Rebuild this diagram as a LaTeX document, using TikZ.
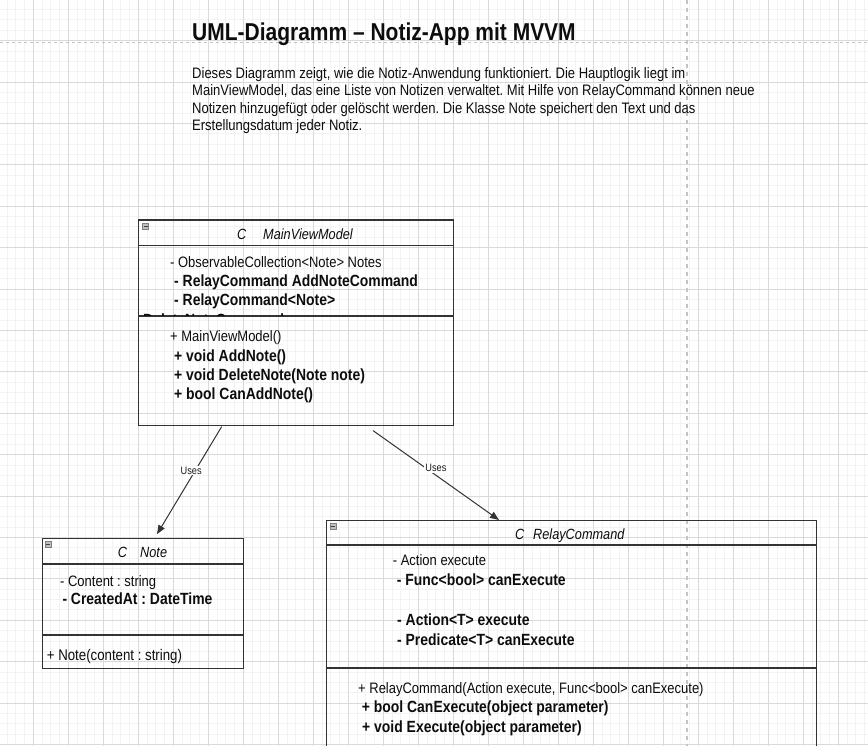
\documentclass[tikz,border=0pt]{standalone}
\usepackage{fontspec}
\setmainfont{Liberation Sans}[FakeStretch=0.86]
\usetikzlibrary{arrows.meta,calc}
\frenchspacing
\definecolor{gridminor}{HTML}{F3F3F3}
\definecolor{gridmajor}{HTML}{DADADA}
\definecolor{pageline}{HTML}{C4C4C4}
\definecolor{boxline}{HTML}{333333}
\newcommand\fsTitle{\fontsize{24.4pt}{28pt}\selectfont\bfseries}
\newcommand\fsPar{\fontsize{15.15pt}{17pt}\selectfont}
\newcommand\fsN{\fontsize{15.1pt}{18pt}\selectfont}
\newcommand\fsB{\fontsize{16.2pt}{19pt}\selectfont\bfseries}
\newcommand\fsH{\fontsize{14.8pt}{18pt}\selectfont\itshape}
\newcommand\fsM{\fontsize{15.4pt}{18pt}\selectfont}
\newcommand\fsU{\fontsize{10.7pt}{12pt}\selectfont}
\begin{document}
\begin{tikzpicture}[x=1pt,y=-1pt,
  txt/.style={anchor=base west, inner sep=0pt, text=black!95},
  classbox/.style={rectangle, draw=boxline, line width=1.1pt, anchor=north west, inner sep=0pt},
  sepline/.style={draw=boxline, line width=1.1pt},
  minusicon/.style={rectangle, draw=black!50, fill=black!25, minimum width=6pt, minimum height=6pt, inner sep=0pt,
     path picture={\draw[black!75, line width=0.8pt] ([xshift=1pt]path picture bounding box.west) -- ([xshift=-1pt]path picture bounding box.east);}},
  uses/.style={draw=boxline, line width=1pt, -{Triangle[length=9pt,width=7pt]}},
  lbl/.style={fill=white, inner sep=1pt, font=\fsU, text=black!90}
]
\useasboundingbox (0,0) rectangle (868,746);
\clip (0,0) rectangle (868,746);
\fill[white] (0,0) rectangle (868,746);
% grid
\foreach \i in {0,...,100} { \draw[gridminor, line width=0.8pt] ({-1.7+8.75*\i},0) -- ++(0,746); }
\foreach \j in {0,...,73} { \draw[gridminor, line width=0.8pt] (0,{-0.8+10.35*\j}) -- ++(868,0); }
\foreach \i in {0,...,25} { \draw[gridmajor, line width=0.8pt] ({-1.7+35*\i},0) -- ++(0,746); }
\foreach \j in {0,...,18} { \draw[gridmajor, line width=0.8pt] (0,{-0.8+41.4*\j}) -- ++(868,0); }
% page break lines
\draw[pageline, line width=1.2pt, dash pattern=on 3pt off 3pt] (0,42.7) -- (868,42.7);
\draw[pageline, line width=1.2pt, dash pattern=on 4pt off 4pt] (687,0) -- (687,746);

% title and description
\node[txt, font=\fsTitle] (title) at (192,41) {UML-Diagramm – Notiz-App mit MVVM};
\node[txt, font=\fsPar] (p1) at (192,78.5) {Dieses Diagramm zeigt, wie die Notiz-Anwendung funktioniert. Die Hauptlogik liegt im};
\node[txt, font=\fsPar] (p2) at (192,96) {MainViewModel, das eine Liste von Notizen verwaltet. Mit Hilfe von RelayCommand können neue};
\node[txt, font=\fsPar] (p3) at (192,113.5) {Notizen hinzugefügt oder gelöscht werden. Die Klasse Note speichert den Text und das};
\node[txt, font=\fsPar] (p4) at (192,131) {Erstellungsdatum jeder Notiz.};

% MainViewModel
\node[classbox, minimum width=315.3pt, minimum height=205pt] (mvm) at (138,219.5) {};
\draw[sepline] (mvm.west |- 0,245.5) -- (mvm.east |- 0,245.5);
\draw[sepline] (mvm.west |- 0,316) -- (mvm.east |- 0,316);
\node[minusicon] (mvmicon) at (145.5,226) {};
\node[txt, font=\fsH] (mvmc) at (237,239.4) {C};
\node[txt, font=\fsH] (mvmname) at (263,239.4) {MainViewModel};
\node[txt, font=\fsN] (mvma1) at (170,267.1) {- ObservableCollection<Note> Notes};
\node[txt, font=\fsB] (mvma2) at (174,286.5) {- RelayCommand AddNoteCommand};
\node[txt, font=\fsB] (mvma3) at (174,305.8) {- RelayCommand<Note>};
\begin{scope}
  \clip (139,300) rectangle (452,315.4);
  \node[txt, font=\fsB] (mvma4) at (143,325) {DeleteNoteCommand};
\end{scope}
\node[txt, font=\fsN] (mvmm1) at (170,341.1) {+ MainViewModel()};
\node[txt, font=\fsB] (mvmm2) at (174,361.5) {+ void AddNote()};
\node[txt, font=\fsB] (mvmm3) at (174,380.8) {+ void DeleteNote(Note note)};
\node[txt, font=\fsB] (mvmm4) at (174,399.8) {+ bool CanAddNote()};

% Note
\node[classbox, minimum width=201.6pt, minimum height=130.6pt] (note) at (41.7,537.7) {};
\draw[sepline] (note.west |- 0,564) -- (note.east |- 0,564);
\draw[sepline] (note.west |- 0,635) -- (note.east |- 0,635);
\node[minusicon] (noteicon) at (48,544.5) {};
\node[txt, font=\fsH] (notec) at (117.7,557.1) {C};
\node[txt, font=\fsH] (notename) at (140,557.1) {Note};
\node[txt, font=\fsN] (notea1) at (60,586.1) {- Content : string};
\node[txt, font=\fsB] (notea2) at (62.3,604.1) {- CreatedAt : DateTime};
\node[txt, font=\fsM] (notem1) at (46.7,660.6) {+ Note(content : string)};

% RelayCommand
\node[classbox, minimum width=490pt, minimum height=260pt] (rc) at (325.7,520) {};
\draw[sepline] (rc.west |- 0,545) -- (rc.east |- 0,545);
\draw[sepline, line width=2pt] (rc.west |- 0,667.5) -- (rc.east |- 0,667.5);
\node[minusicon] (rcicon) at (333,526.5) {};
\node[txt, font=\fsH] (rcc) at (515,539.4) {C};
\node[txt, font=\fsH] (rcname) at (533,539.4) {RelayCommand};
\node[txt, font=\fsN] (rca1) at (392.7,565.4) {- Action execute};
\node[txt, font=\fsB] (rca2) at (396.7,585.8) {- Func<bool> canExecute};
\node[txt, font=\fsB] (rca3) at (397,625.8) {- Action<T> execute};
\node[txt, font=\fsB] (rca4) at (397,645.8) {- Predicate<T> canExecute};
\node[txt, font=\fsN] (rcm1) at (358,693.4) {+ RelayCommand(Action execute, Func<bool> canExecute)};
\node[txt, font=\fsB] (rcm2) at (361.7,712.8) {+ bool CanExecute(object parameter)};
\node[txt, font=\fsB] (rcm3) at (362,732.5) {+ void Execute(object parameter)};

% connectors
\draw[uses] ($(mvm.south west)+(83.7,1)$) -- node[lbl, pos=0.41, xshift=-4pt] (l1) {Uses} ($(note.north west)+(115.3,-3.5)$);
\draw[uses] ($(mvm.south west)+(235,5)$) -- node[lbl, pos=0.42, xshift=10pt] (l2) {Uses} ($(rc.north west)+(173.3,0)$);
\end{tikzpicture}
\end{document}
